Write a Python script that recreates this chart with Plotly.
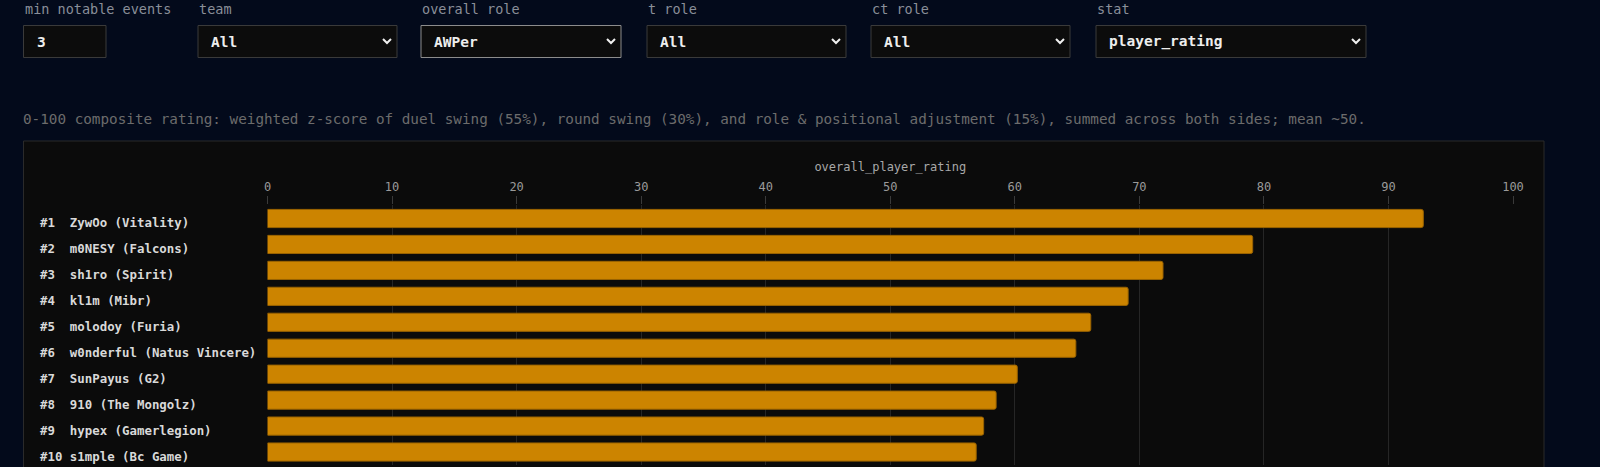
import plotly.graph_objects as go

W, H = 1600, 467

# data
players = ["ZywOo", "m0NESY", "sh1ro", "kl1m", "molodoy",
           "w0nderful", "SunPayus", "910", "hypex", "s1mple"]
teams = ["Vitality", "Falcons", "Spirit", "Mibr", "Furia",
         "Natus Vincere", "G2", "The Mongolz", "Gamerlegion", "Bc Game"]
ratings = [92.8, 79.1, 71.9, 69.1, 66.1, 64.9, 60.2, 58.5, 57.5, 56.9]

control_labels = ["min notable events", "team", "overall role", "t role", "ct role", "stat"]
control_values = ["3", "All", "AWPer", "All", "All", "player_rating"]
axis_title = "overall_player_rating"
description = ("0-100 composite rating: weighted z-score of duel swing (55%), round swing (30%), "
               "and role & positional adjustment (15%), summed across both sides; mean ~50.")

NB = "\u00a0"
labels = [f"#{i + 1}".ljust(4).replace(" ", NB) + f"{p} ({t})".replace(" ", NB)
          for i, (p, t) in enumerate(zip(players, teams))]

# pixel -> paper helpers (margins are zero, so paper == whole figure)
def px(x):
    return x / W

def py(y):
    return 1 - y / H

MONO = "DejaVu Sans Mono, Liberation Mono, monospace"
PAGE_BG = "#030a1b"
PANEL_BG = "#0b0b0b"

fig = go.Figure()
fig.add_trace(go.Bar(
    x=ratings, y=labels, orientation="h", width=0.7,
    marker=dict(color="#cc8400", line=dict(color="#9a6300", width=1), cornerradius=2),
    hoverinfo="x+y",
))

shapes = []
annotations = []

# panel behind the chart
shapes.append(dict(type="rect", xref="paper", yref="paper", layer="below",
                   x0=px(23.5), x1=px(1544), y0=py(490), y1=py(141),
                   fillcolor=PANEL_BG, line=dict(color="#2a2a2a", width=1)))

# controls row
box_x = [(23.5, 106), (198, 397), (421, 621), (647, 846), (871, 1070), (1096, 1366)]
for i, (lab, val) in enumerate(zip(control_labels, control_values)):
    x0, x1 = box_x[i]
    annotations.append(dict(xref="paper", yref="paper", x=px(x0 - 1), y=py(8.5),
                            xanchor="left", yanchor="middle", showarrow=False, text=lab,
                            font=dict(family=MONO, size=13.5, color="#8a8f99")))
    edge = "#8c8c8c" if val == "AWPer" else "#3a3a3a"
    shapes.append(dict(type="rect", xref="paper", yref="paper", layer="below",
                       x0=px(x0), x1=px(x1), y0=py(57.5), y1=py(25.5),
                       fillcolor="#0c0c0c", line=dict(color=edge, width=1)))
    annotations.append(dict(xref="paper", yref="paper", x=px(x0 + 11), y=py(41.5),
                            xanchor="left", yanchor="middle", showarrow=False,
                            text=f"<b>{val}</b>",
                            font=dict(family=MONO, size=14.5, color="#eeeeee")))
    if i > 0:
        cx = x1 - 10
        shapes.append(dict(type="path", xref="paper", yref="paper",
                           path=f"M {px(cx - 4)},{py(39)} L {px(cx)},{py(43)} L {px(cx + 4)},{py(39)}",
                           line=dict(color="#f0f0f0", width=2)))

annotations.append(dict(xref="paper", yref="paper", x=px(21), y=py(119.5),
                        xanchor="left", yanchor="middle", showarrow=False, text=description,
                        font=dict(family=MONO, size=14.3, color="#6c6c6c")))

# left-aligned row labels (sit a little below the bar centre, as in the dashboard)
for lab in labels:
    annotations.append(dict(xref="paper", yref="y", x=px(38), y=lab, yshift=-4,
                            xanchor="left", yanchor="middle", showarrow=False,
                            text=f"<b>{lab}</b>",
                            font=dict(family=MONO, size=12.4, color="#d9d9d9")))

fig.update_layout(
    width=W, height=H,
    margin=dict(l=0, r=0, t=0, b=0, autoexpand=False),
    paper_bgcolor=PAGE_BG, plot_bgcolor=PANEL_BG,
    showlegend=False,
    bargap=0.3,
    shapes=shapes, annotations=annotations,
    font=dict(family=MONO, color="#9a9a9a"),
    xaxis=dict(domain=[px(267.5), px(1513)], range=[0, 100], dtick=10, side="top",
               showgrid=True, gridcolor="#262626", gridwidth=1, zeroline=False,
               ticks="outside", ticklen=8, tickcolor="#3a3a3a",
               tickfont=dict(family=MONO, size=12, color="#9a9a9a"),
               title=dict(text=axis_title, standoff=6,
                          font=dict(family=MONO, size=12, color="#a8a8a8")),
               showline=False, fixedrange=True),
    yaxis=dict(domain=[py(465), py(205)], autorange="reversed", showticklabels=False,
               showgrid=False, zeroline=False, ticks="", fixedrange=True),
)

# page itself should be flush and dark like the dashboard
page_css = ("document.body.style.margin='0';"
            "document.body.style.background='" + PAGE_BG + "';"
            "document.body.style.overflow='hidden';")
fig.write_html("out.html", post_script=page_css, config={"displayModeBar": False})
